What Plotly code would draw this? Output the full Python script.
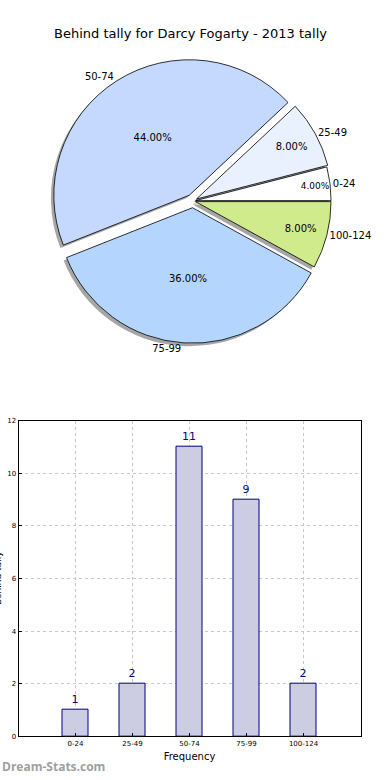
import plotly.graph_objects as go

categories = ["0-24", "25-49", "50-74", "75-99", "100-124"]
counts = [1, 2, 11, 9, 2]
pie_colors = ["#ffffff", "#e9f1fe", "#c5d9fe", "#b4d5fe", "#d0eb8c"]
pulls = [0.02, 0.03, 0.05, 0.05, 0.02]
y_ticks = [0, 2, 4, 6, 8, 10, 12]

W, H = 390, 780

def px_x(x):
    return x / W

def px_y(y):
    return (H - y) / H

# matplotlib-like start: first slice begins at 3 o'clock, counterclockwise
start_rot = 90 - 360 * counts[0] / sum(counts)

cx, cy, R = 198, 199, 146
pie_dom = dict(x=[px_x(cx - R), px_x(cx + R)], y=[px_y(cy + R), px_y(cy - R)])
sh_dom = dict(x=[px_x(cx - R - 3), px_x(cx + R - 3)], y=[px_y(cy + R + 3), px_y(cy - R + 3)])

fig = go.Figure()

common = dict(labels=categories, values=counts, sort=False, direction="counterclockwise",
              rotation=start_rot, pull=pulls, showlegend=False)

# shadow
fig.add_trace(go.Pie(
    **common, domain=sh_dom, textinfo="none", hoverinfo="skip",
    marker=dict(colors=["rgba(0,0,0,0.35)"] * len(counts), line=dict(width=0)),
))
# main pie with inside percentages
fig.add_trace(go.Pie(
    **common, domain=pie_dom,
    texttemplate="%{percent:.2%}", textposition="inside", insidetextorientation="horizontal",
    textfont=dict(family="DejaVu Sans", size=10, color="black"),
    marker=dict(colors=pie_colors, line=dict(color="black", width=0.8)),
))
# outside labels
fig.add_trace(go.Pie(
    **common, domain=pie_dom,
    texttemplate="%{label}", textposition="outside",
    textfont=dict(family="DejaVu Sans", size=10, color="black"),
    outsidetextfont=dict(family="DejaVu Sans", size=10, color="black"),
    marker=dict(colors=["rgba(0,0,0,0)"] * len(counts), line=dict(width=0)),
    hoverinfo="skip",
))

# bar chart
fig.add_trace(go.Bar(
    x=list(range(len(categories))), y=counts, width=0.45,
    marker=dict(color="#ccccE2", line=dict(color="#000080", width=1)),
    text=[str(c) for c in counts], textposition="outside",
    textfont=dict(family="DejaVu Sans", size=11, color="#000080"),
    cliponaxis=False, xaxis="x", yaxis="y", showlegend=False,
))

fig.update_layout(
    width=W, height=H, margin=dict(l=0, r=0, t=0, b=0),
    paper_bgcolor="white", plot_bgcolor="white",
    font=dict(family="DejaVu Sans", color="black"),
    xaxis=dict(domain=[px_x(19), px_x(370)], range=[-1, 5],
               tickvals=list(range(len(categories))), ticktext=categories,
               tickfont=dict(size=7), ticks="inside", ticklen=3, tickcolor="black",
               showline=True, mirror=True, linecolor="black", linewidth=1,
               showgrid=True, gridcolor="#c8c8c8", griddash="dot", gridwidth=1,
               zeroline=False,
               title=dict(text="Frequency", font=dict(size=10), standoff=6)),
    yaxis=dict(domain=[px_y(740), px_y(421)], range=[0, 12], tickvals=y_ticks,
               tickfont=dict(size=7), ticks="inside", ticklen=3, tickcolor="black",
               showline=True, mirror=True, linecolor="black", linewidth=1,
               showgrid=True, gridcolor="#c8c8c8", griddash="dot", gridwidth=1,
               zeroline=False),
    bargap=0,
    annotations=[
        dict(text="Behind tally for Darcy Fogarty - 2013 tally", xref="paper", yref="paper",
             x=0.5, y=px_y(30), xanchor="center", yanchor="middle", showarrow=False,
             font=dict(size=13, family="DejaVu Sans", color="black")),
        dict(text="Behind tally", xref="paper", yref="paper", x=px_x(-2), y=px_y(580),
             xanchor="center", yanchor="middle", textangle=-90, showarrow=False,
             font=dict(size=9, family="DejaVu Sans", color="black")),
        dict(text="<b>Dream-Stats.com</b>", xref="paper", yref="paper", x=0, y=px_y(770),
             xanchor="left", yanchor="middle", showarrow=False,
             font=dict(size=12, family="Open Sans", color="#a0a0a0")),
    ],
)

fig.write_html(
    "out.html",
    config={"displayModeBar": False, "responsive": False},
    post_script=(
        "document.documentElement.style.margin='0';"
        "document.documentElement.style.overflow='hidden';"
        "document.body.style.margin='0';document.body.style.padding='0';"
        "document.body.style.overflow='hidden';"
        "var d=document.getElementById('{plot_id}');"
        "d.style.overflow='hidden';d.style.width='390px';d.style.height='780px';"
    ),
)
